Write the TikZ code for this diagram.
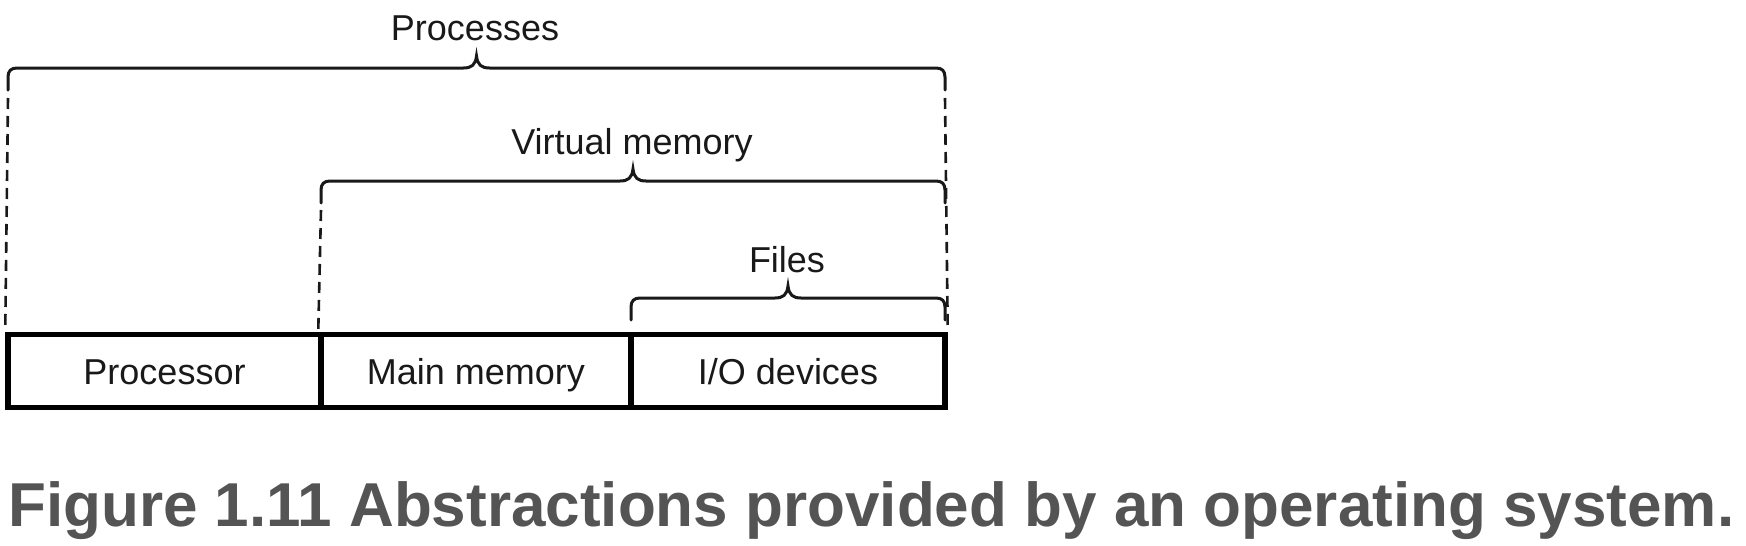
\documentclass[tikz,border=0pt]{standalone}
\usepackage{fontspec}
\setmainfont{Liberation Sans}
\begin{document}
\begin{tikzpicture}[x=1pt,y=-1pt,
  cell/.style={draw=black, line width=5.5pt, minimum height=73pt, inner sep=0pt,
    font=\fontsize{36}{36}\selectfont, text height=26pt, text depth=0pt, text=black!90},
  lbl/.style={anchor=base, inner sep=0pt, font=\fontsize{36}{36}\selectfont, text=black!90},
  brc/.style={draw=black!90, line width=3pt, line cap=round},
  dsh/.style={draw=black!90, line width=2.6pt, dash pattern=on 11pt off 7pt},
  captxt/.style={anchor=base west, inner sep=0pt, font=\fontsize{62}{62}\selectfont\bfseries, text=black!67}]
\useasboundingbox (0,0) rectangle (1746,546);
\newcommand\hbrace[3]{%
  \draw[brc] ({#1},{#3+22}) -- ({#1},{#3+9}) .. controls ({#1},{#3+3}) and ({#1+3},{#3}) .. ({#1+9},{#3})
    -- ({(#1+#2)/2-13},{#3}) .. controls ({(#1+#2)/2-5},{#3}) and ({(#1+#2)/2-1},{#3-3}) .. ({(#1+#2)/2},{#3-12})
    .. controls ({(#1+#2)/2+1},{#3-3}) and ({(#1+#2)/2+5},{#3}) .. ({(#1+#2)/2+13},{#3})
    -- ({#2-9},{#3}) .. controls ({#2-3},{#3}) and ({#2},{#3+3}) .. ({#2},{#3+9}) -- ({#2},{#3+22});}
% cells
\node[cell, minimum width=313pt] (proc) at (164.5,371) {Processor};
\node[cell, minimum width=310pt] (mem) at (476,371) {Main memory};
\node[cell, minimum width=314pt] (io) at (788,371) {I/O devices};
% braces
\hbrace{8}{945}{68}
\hbrace{321}{945}{181}
\hbrace{631}{945}{298}
\coordinate (pL) at (8,98);
\coordinate (pR) at (945,98);
\coordinate (vL) at (321,210);
\draw[dsh] (pL) -- (proc.north west);
\draw[dsh] (pR) -- (io.north east);
\draw[dsh] (vL) -- (mem.north west);
% labels
\node[lbl] (tp) at (475,40) {Processes};
\node[lbl] (tv) at (632,154) {Virtual memory};
\node[lbl] (tf) at (787,272) {Files};
\node[captxt] (caption) at (8,526) {Figure 1.11 Abstractions provided by an operating system.};
\end{tikzpicture}
\end{document}
